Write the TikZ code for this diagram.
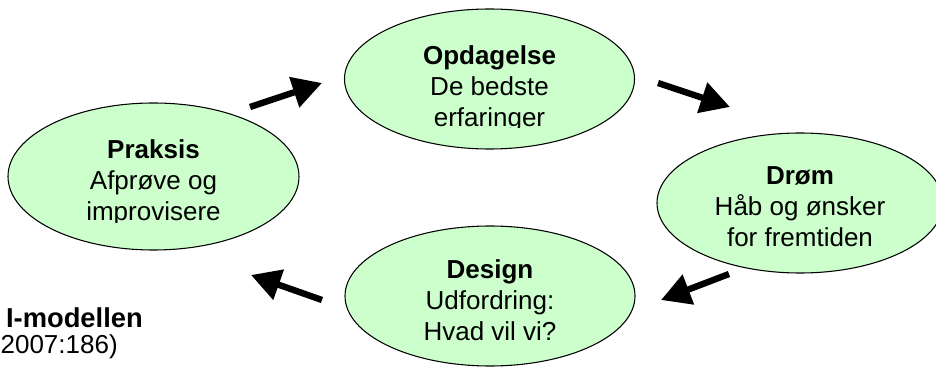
\documentclass[tikz,border=0pt]{standalone}
\usepackage{fontspec}
\setmainfont{Liberation Sans}
\usetikzlibrary{arrows.meta,shapes.geometric,calc}
\definecolor{bubblegreen}{RGB}{204,255,204}
\tikzset{
  bubble/.style={ellipse, draw=black, line width=0.8pt, fill=bubblegreen,
    minimum width=290*0.75pt, minimum height=140*0.75pt, inner sep=0pt},
  bubbletext/.style={align=center, inner sep=0pt,
    font=\fontsize{19.5}{23.25}\selectfont},
  cyclearrow/.style={line width=4.8pt,
    -{Triangle[length=22pt, width=23pt]}},
  caption/.style={inner sep=0pt, font=\fontsize{19.5}{23.25}\selectfont}
}
\begin{document}
\begin{tikzpicture}[x=0.75pt, y=-0.75pt]
  \useasboundingbox (0,0) rectangle (936,367);
  \clip (0,0) rectangle (936,367);

  % the four phases of the cycle
  \node[bubble] (opd) at (489.5,79) {};
  \node[bubble, minimum width=291*0.75pt, minimum height=147*0.75pt] (pra) at (153.5,176.5) {};
  \node[bubble, minimum width=286*0.75pt] (drm) at (800,203) {};
  \node[bubble] (des) at (490,296) {};

  % phase texts (the text boxes cut off the lowest descenders)
  \begin{scope}
    \clip (345,0) rectangle (634,127.5);
    \node[bubbletext] (opdtxt) at ($(opd.center)+(0,10)$) {\textbf{Opdagelse}\\De bedste\\erfaringer};
  \end{scope}
  \begin{scope}
    \clip (8,100) rectangle (299,222.5);
    \node[bubbletext] (pratxt) at ($(pra.center)+(0,6)$) {\textbf{Praksis}\\Afprøve og\\improvisere};
  \end{scope}
  \node[bubbletext] (drmtxt) at ($(drm.center)+(0,4)$) {\textbf{Drøm}\\Håb og ønsker\\for fremtiden};
  \node[bubbletext] (destxt) at ($(des.center)+(0,4)$) {\textbf{Design}\\Udfordring:\\Hvad vil vi?};

  % arrows between the phases
  \coordinate (a1s) at (250,107); \coordinate (a1e) at (322,83);
  \coordinate (a2s) at (658,83);  \coordinate (a2e) at (730,107);
  \coordinate (a3s) at (729,274); \coordinate (a3e) at (661,300);
  \coordinate (a4s) at (322,300); \coordinate (a4e) at (251,275);
  \draw[cyclearrow] (a1s) -- (a1e);
  \draw[cyclearrow] (a2s) -- (a2e);
  \draw[cyclearrow] (a3s) -- (a3e);
  \draw[cyclearrow] (a4s) -- (a4e);

  % model caption
  \node[caption, anchor=base east, font=\fontsize{20.5}{23.25}\selectfont\bfseries] (captitle) at (143,327) {I-modellen};
  \node[caption, anchor=base east] (capref) at (118,353) {2007:186)};
\end{tikzpicture}
\end{document}
